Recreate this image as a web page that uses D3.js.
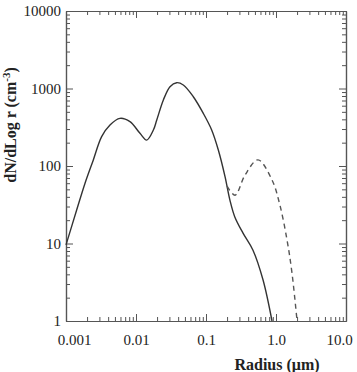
<!DOCTYPE html>
<html><head><meta charset="utf-8">
<script src="https://cdn.jsdelivr.net/npm/d3@7"></script>
<style>body{margin:0;background:#fff}svg{display:block}</style>
</head><body>
<script>
// data
const solidR = [0.001,0.00142,0.00187,0.00245,0.00323,0.00425,0.0059,0.0082,0.0114,0.0142,0.0177,0.0198,0.0246,0.0306,0.0381,0.0474,0.0659,0.0915,0.1205,0.150,0.187,0.220,0.258,0.338,0.469,0.652,0.877];
const solidN = [9.6,27,60,119,239,338,412,373,264,216,291,392,711,1055,1188,1110,783,478,292,161,73,36,22,13.6,8.2,3.4,1];
const dashR = [0.2,0.26,0.36,0.553,0.877,1.14,1.44,1.69,2.0];
const dashN = [55,42,76,120,66,31,11,4.2,1];
const xTicks = [0.001,0.01,0.1,1,10];
const xTickLabels = ["0.001","0.01","0.1","1.0","10.0"];
const yTicks = [1,10,100,1000,10000];
const yTickLabels = ["1","10","100","1000","10000"];

const W=357,H=372, L=66,R=346,T=11,B=321;
const svg=d3.select("body").append("svg").attr("width",W).attr("height",H);
const x=d3.scaleLog().domain([0.001,10]).range([L,R]);
const y=d3.scaleLog().domain([1,10000]).range([B,T]);
const minorX=[],minorY=[];
for(let d=0.001; d<9; d*=10) for(let k=2;k<=9;k++) minorX.push(d*k);
for(let d=1; d<9000; d*=10) for(let k=2;k<=9;k++) minorY.push(d*k);
const axColor="#555";
function style(g){g.select(".domain").attr("stroke",axColor).attr("stroke-width",1.2);g.selectAll(".tick line").attr("stroke",axColor).attr("stroke-width",1);}
// bottom
const gb=svg.append("g").attr("transform",`translate(0,${B})`);
gb.call(d3.axisBottom(x).tickValues(xTicks).tickSize(-7).tickSizeOuter(0).tickPadding(13).tickFormat((d,i)=>xTickLabels[i])).call(style);
gb.selectAll(".tick text").attr("font-family","Liberation Serif").attr("font-size",15).attr("fill","#222")
  .attr("dx",(d,i)=> i===0?8:(i===xTicks.length-1?-7:0));
svg.append("g").attr("transform",`translate(0,${B})`).call(d3.axisBottom(x).tickValues(minorX).tickSize(-4).tickSizeOuter(0).tickFormat("")).call(style);
// top
svg.append("g").attr("transform",`translate(0,${T})`).call(d3.axisTop(x).tickValues(xTicks).tickSize(-7).tickSizeOuter(0).tickFormat("")).call(style);
svg.append("g").attr("transform",`translate(0,${T})`).call(d3.axisTop(x).tickValues(minorX).tickSize(-4).tickSizeOuter(0).tickFormat("")).call(style);
// left
const gl=svg.append("g").attr("transform",`translate(${L},0)`);
gl.call(d3.axisLeft(y).tickValues(yTicks).tickSize(-7).tickSizeOuter(0).tickPadding(4).tickFormat((d,i)=>yTickLabels[i])).call(style);
gl.selectAll(".tick text").attr("font-family","Liberation Serif").attr("font-size",15).attr("fill","#222").attr("dx",-1);
svg.append("g").attr("transform",`translate(${L},0)`).call(d3.axisLeft(y).tickValues(minorY).tickSize(-4).tickSizeOuter(0).tickFormat("")).call(style);
// right
svg.append("g").attr("transform",`translate(${R},0)`).call(d3.axisRight(y).tickValues(yTicks).tickSize(-7).tickSizeOuter(0).tickFormat("")).call(style);
svg.append("g").attr("transform",`translate(${R},0)`).call(d3.axisRight(y).tickValues(minorY).tickSize(-4).tickSizeOuter(0).tickFormat("")).call(style);

// curves
const line=d3.line().x(d=>x(d[0])).y(d=>y(d[1])).curve(d3.curveCatmullRom.alpha(0.5));
svg.append("path").attr("d",line(solidR.map((r,i)=>[r,solidN[i]]))).attr("fill","none").attr("stroke","#333").attr("stroke-width",1.4);
svg.append("path").attr("d",line(dashR.map((r,i)=>[r,dashN[i]]))).attr("fill","none").attr("stroke","#555").attr("stroke-width",1.4).attr("stroke-dasharray","5,4");

// titles
svg.append("text").attr("x",277).attr("y",370).attr("text-anchor","middle").attr("font-family","Liberation Serif").attr("font-weight","bold").attr("font-size",16).attr("fill","#222").text("Radius (\u03BCm)");
const yt=svg.append("text").attr("transform","translate(16,125) rotate(-90)").attr("text-anchor","middle").attr("font-family","Liberation Serif").attr("font-weight","bold").attr("font-size",16).attr("fill","#222");
yt.append("tspan").text("dN/dLog r (cm");
yt.append("tspan").attr("dy",-6).attr("font-size",11).text("-3");
yt.append("tspan").attr("dy",6).text(")");
</script>
</body></html>
